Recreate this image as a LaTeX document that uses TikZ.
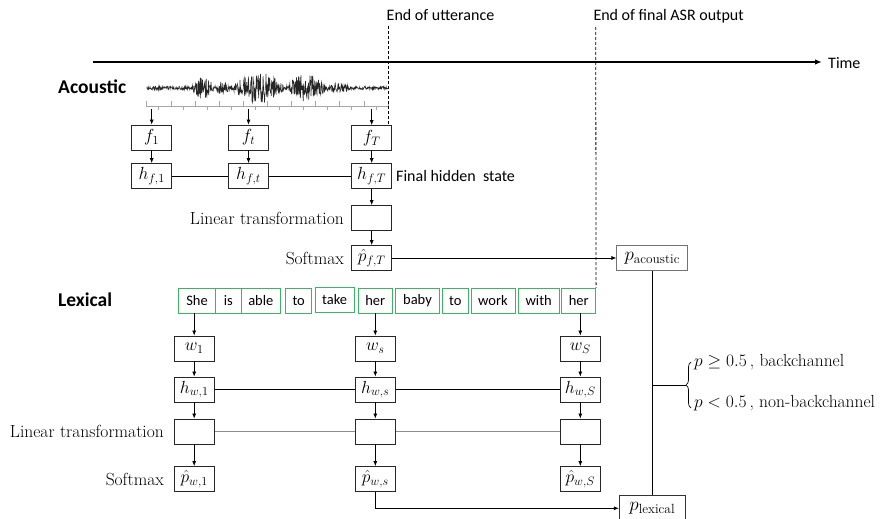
\RequirePackage{fix-cm}
\documentclass[tikz,border=0pt]{standalone}
\usepackage{fontspec}
\newfontfamily\carl{Carlito}
\usetikzlibrary{arrows.meta,decorations.pathreplacing,calc}
\definecolor{wgreen}{RGB}{60,180,100}
\newcommand\fsz[1]{\fontsize{#1}{#1}\selectfont}
\begin{document}
\begin{tikzpicture}[x=1pt,y=-1pt,
  declare function={bump(\t,\c,\w)=max(0,1-((\t-\c)/\w)^2);
    env(\t)=1.8+9*bump(\t,203,11)+5*bump(\t,222,8)+14*bump(\t,258,26)+12*bump(\t,306,20)+3*bump(\t,336,14);},
  mbox/.style={draw=black!85, line width=0.8pt, minimum width=40pt, minimum height=25pt, inner sep=0pt, font=\fsz{17.5}},
  wbox/.style={draw=wgreen, line width=0.8pt, minimum height=25pt, inner sep=0pt, font=\carl\fsz{14.5}},
  pbox/.style={draw=black!55, line width=0.8pt, minimum width=71pt, minimum height=25pt, inner sep=0pt, font=\fsz{19}},
  arr/.style={-{Latex[length=5pt,width=4pt]}, line width=0.7pt},
  conn/.style={line width=0.7pt},
  sanslbl/.style={font=\carl\fsz{16}, inner sep=0pt},
  headlbl/.style={font=\carl\bfseries\fsz{19.5}, inner sep=0pt},
  seriflbl/.style={font=\fsz{17.5}, inner sep=0pt},
  vline/.style={line width=0.8pt, dash pattern=on 3pt off 2pt},
]
\useasboundingbox (0,0) rectangle (881,519);

% time axis and markers
\node[sanslbl, anchor=west] (time) at (828,63) {Time};
\coordinate (t0) at (93,62);
\draw[line width=1.6pt, -{Latex[length=7pt,width=5.5pt]}] (t0) -- ([xshift=-6pt]time.west |- t0);
\node[sanslbl, anchor=west] (eou) at (386.5,15.5) {End of utterance};
\node[sanslbl, anchor=west] (asr) at (593.3,16) {End of final ASR output};

% headings
\node[headlbl, anchor=west] (acl) at (58,87) {Acoustic};
\node[headlbl, anchor=west] (lexl) at (58,300) {Lexical};

% waveform
\pgfmathsetseed{7}
\draw[line width=0.6pt, black!85] plot[domain=146.7:388, samples=650] (\x,{88+env(\x)*rand});
% ruler
\draw[black!35, line width=0.6pt] (146.7,106.5) -- (388,106.5);
\foreach \i in {0,...,10} \draw[black!35, line width=0.6pt] ({146.7+24.13*\i},106.5) -- ++(0,-6);
\foreach \i in {0,...,9} \draw[black!35, line width=0.6pt] ({146.7+24.13*\i+12},106.5) -- ++(0,3);

% acoustic boxes
\node[mbox] (f1) at (151.7,137.5) {$f_1$};
\node[mbox] (ft) at (248.5,137.5) {$f_t$};
\node[mbox] (fT) at (371.7,138) {$f_T$};
\node[mbox] (hf1) at (151.7,176) {$h_{f,1}$};
\node[mbox] (hft) at (248.5,176) {$h_{f,t}$};
\node[mbox] (hfT) at (371.7,176) {$h_{f,T}$};
\node[mbox] (linA) at (371.7,218) {};
\node[mbox] (pfT) at (371.7,258) {$\hat{p}_{f,T}$};
\node[seriflbl, anchor=east] (linAlbl) at (344,218) {Linear transformation};
\node[seriflbl, anchor=east] (smAlbl) at (344,258) {Softmax};
\node[sanslbl, anchor=west] (fhs) at (396,176) {Final hidden\ \ state};

\coordinate (r1) at (151.7,109);
\coordinate (rt) at (248.5,109);
\coordinate (rT) at (371.7,109);
\draw[arr] (r1) -- (f1.north);
\draw[arr] (rt) -- (ft.north);
\draw[arr] (rT) -- (fT.north);
\draw[arr] (f1) -- (hf1);
\draw[arr] (ft) -- (hft);
\draw[arr] (fT) -- (hfT);
\draw[conn] (hf1) -- (hft) -- (hfT);
\draw[arr] (hfT) -- (linA);
\draw[arr] (linA) -- (pfT);

% words
\node[wbox, minimum width=37.4pt] (she) at (197,300.5) {She};
\node[wbox, minimum width=25.3pt] (is) at (228.35,300.5) {is};
\node[wbox, minimum width=39.7pt] (able) at (260.85,300.5) {able};
\node[wbox, minimum width=26pt] (to1) at (298.7,300.5) {to};
\node[wbox, minimum width=39.3pt] (take) at (334.65,300) {take};
\node[wbox, minimum width=34pt] (her1) at (375.3,300.5) {her};
\node[wbox, minimum width=43.6pt] (baby) at (417.5,300.5) {baby};
\node[wbox, minimum width=26pt] (to2) at (455.3,300.5) {to};
\node[wbox, minimum width=44pt] (work) at (493,300.5) {work};
\node[wbox, minimum width=40.7pt] (with) at (538.65,300.5) {with};
\node[wbox, minimum width=34pt] (her2) at (578.7,300.5) {her};

% dashed markers
\coordinate (eouTop) at (388,26);
\draw[vline] (eouTop) -- (eouTop |- fT.north);
\coordinate (asrTop) at (595.7,27);
\draw[vline] (asrTop) -- (her2.north east);

% lexical boxes
\node[mbox] (w1) at (194.2,348.5) {$w_1$};
\node[mbox] (ws) at (375.3,348.5) {$w_s$};
\node[mbox] (wS) at (580.3,348.5) {$w_S$};
\node[mbox] (hw1) at (194.2,389.5) {$h_{w,1}$};
\node[mbox] (hws) at (375.3,389.5) {$h_{w,s}$};
\node[mbox] (hwS) at (580.3,389.5) {$h_{w,S}$};
\node[mbox] (lin1) at (194.2,431.5) {};
\node[mbox] (lins) at (375.3,431.5) {};
\node[mbox] (linS) at (580.3,431.5) {};
\node[mbox] (pw1) at (194.2,479) {$\hat{p}_{w,1}$};
\node[mbox] (pws) at (375.3,479) {$\hat{p}_{w,s}$};
\node[mbox] (pwS) at (580.3,479) {$\hat{p}_{w,S}$};
\node[seriflbl, anchor=east] (linLlbl) at (164,431.5) {Linear transformation};
\node[seriflbl, anchor=east] (smLlbl) at (164,479) {Softmax};

\draw[arr] (she.south -| w1.north) -- (w1.north);
\draw[arr] (her1.south -| ws.north) -- (ws.north);
\draw[arr] (her2.south -| wS.north) -- (wS.north);
\foreach \c in {1,s,S} {
  \draw[arr] (w\c) -- (hw\c);
  \draw[arr] (hw\c) -- (lin\c);
  \draw[arr] (lin\c) -- (pw\c);
}
\draw[conn] (hw1) -- (hws) -- (hwS);
\draw[black!45, line width=1.4pt] (lin1) -- (lins) -- (linS);

% fusion
\node[pbox] (pac) at (652.3,258.2) {$p_{\mathrm{acoustic}}$};
\node[pbox, draw=black!80, minimum width=66pt] (plex) at (652.3,508.3) {$p_{\mathrm{lexical}}$};
\draw[arr] (pfT.east) -- (pfT.east -| pac.west);
\draw[arr] (pws.south) |- (plex.west);
\draw[conn] (pac.south) -- (plex.north);
\coordinate (btip) at (686,385);
\draw[conn] (pac.south |- btip) -- (btip);
\draw[conn, decorate, decoration={brace, amplitude=5pt}] (691,408) -- (691,362);
\node[seriflbl, anchor=west] (bc) at (694,362) {$p \geq 0.5$\,, backchannel};
\node[seriflbl, anchor=west] (nbc) at (694,403.5) {$p < 0.5$\,, non-backchannel};
\end{tikzpicture}
\end{document}
